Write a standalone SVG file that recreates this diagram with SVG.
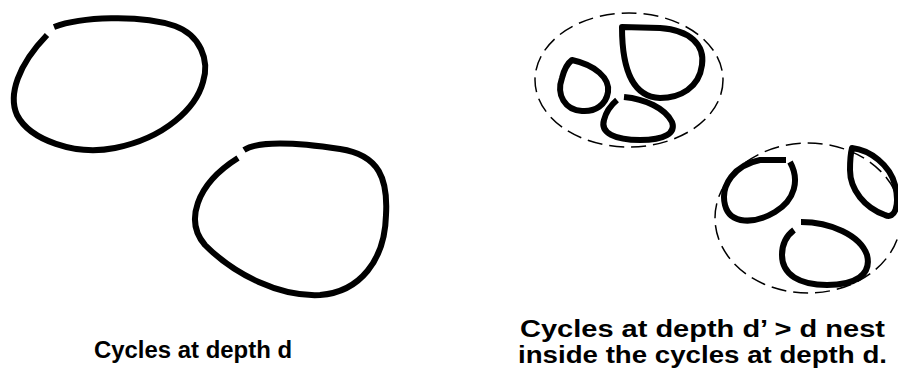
<svg xmlns="http://www.w3.org/2000/svg" width="898" height="374" viewBox="0 0 898 374">
<style>
.cyc{fill:none;stroke:#000;stroke-width:6;stroke-linecap:butt;stroke-linejoin:round}
.env{fill:none;stroke:#000;stroke-width:1.5;stroke-dasharray:15 7}
.lbl{font-family:"Liberation Sans",Arial,sans-serif;font-weight:bold;font-size:23px;fill:#000}
</style>
<rect width="898" height="374" fill="#fff"/>
<g id="cycle-d-1"><path class="cyc" d="M 54,27 C 80,17 140,14 175,26 C 200,35 210,60 203,82 C 196,108 165,138 115,148 C 75,156 30,140 17,115 C 8,95 18,65 47,35"/></g>
<g id="cycle-d-2"><path class="cyc" d="M 244,150 C 260,140 300,143 340,149 C 380,155 388,180 386,215 C 385,260 360,292 320,295 C 280,297 235,275 205,245 C 185,222 195,185 238,158"/></g>
<g id="group-top">
<ellipse class="env" cx="629" cy="80" rx="94" ry="67"/>
<path class="cyc" d="M 622,27 L 660,28 C 690,30 705,45 702,65 C 699,88 680,98 660,98 C 635,97 622,75 622,27 Z"/>
<path class="cyc" d="M 572,60 C 595,65 610,78 608,92 C 606,105 595,112 582,111 C 565,110 556,95 562,78 C 564,70 568,63 572,60 Z"/>
<path class="cyc" d="M 624,97 C 645,99 665,108 672,122 C 676,133 665,140 640,140 C 615,140 600,133 604,120 C 606,112 611,105 617,100"/>
</g>
<g id="group-bottom">
<ellipse class="env" cx="808" cy="218" rx="93" ry="75"/>
<path class="cyc" d="M 790,162 C 800,180 795,200 775,212 C 755,224 730,225 725,205 C 720,185 735,165 760,160 L 786,160"/>
<path class="cyc" d="M 852,148 C 870,150 890,165 895,185 C 900,205 895,220 885,215 C 865,208 850,190 850,170 C 850,160 851,152 852,148 Z"/>
<path class="cyc" d="M 801,222 C 830,222 860,235 867,255 C 872,275 855,285 827,285 C 800,285 782,275 782,255 C 782,243 786,236 794,230"/>
</g>
<g id="labels">
<text class="lbl" x="94" y="358" textLength="198" lengthAdjust="spacingAndGlyphs">Cycles at depth d</text>
<text class="lbl" x="520" y="337" textLength="365" lengthAdjust="spacingAndGlyphs">Cycles at depth d’ &gt; d nest</text>
<text class="lbl" x="518" y="363" textLength="369" lengthAdjust="spacingAndGlyphs">inside the cycles at depth d.</text>
</g>
</svg>
